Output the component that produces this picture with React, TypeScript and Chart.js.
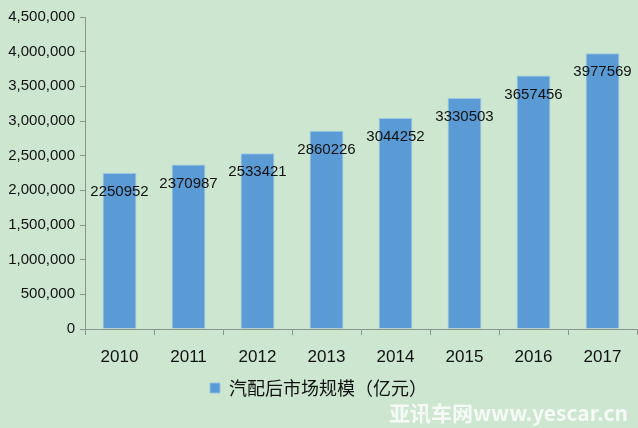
import React, { useEffect, useRef } from "react";
import { Chart, registerables } from "chart.js";

Chart.register(...registerables);

const categories = ["2010", "2011", "2012", "2013", "2014", "2015", "2016", "2017"];
const seriesName = "汽配后市场规模（亿元）";
const values = [2250952, 2370987, 2533421, 2860226, 3044252, 3330503, 3657456, 3977569];
const watermark = "亚讯车网www.yescar.cn";

const BG = "rgb(204,230,208)";
const BAR = "rgb(91,155,213)";
const TEXT = "#111";
const AXIS = "#8a968c";

const labelPlugin = {
  id: "barLabels",
  afterDatasetsDraw(chart: any) {
    const { ctx } = chart;
    const meta = chart.getDatasetMeta(0);
    ctx.save();
    ctx.font = "15px 'Liberation Sans', Arial, sans-serif";
    ctx.fillStyle = TEXT;
    ctx.textAlign = "center";
    ctx.textBaseline = "middle";
    meta.data.forEach((el: any, i: number) => {
      ctx.fillText(String(values[i]), el.x, el.y + 19);
    });
    ctx.restore();
  },
  afterDraw(chart: any) {
    const { ctx } = chart;
    ctx.save();
    ctx.font = "bold 21px 'Noto Sans CJK SC', 'Liberation Sans', sans-serif";
    ctx.fillStyle = "rgba(255,255,255,0.8)";
    ctx.textAlign = "right";
    ctx.textBaseline = "middle";
    ctx.fillText(watermark, 628, 413);
    ctx.restore();
  },
};

export default function App() {
  const ref = useRef<HTMLCanvasElement>(null);
  useEffect(() => {
    if (!ref.current) return;
    const chart = new Chart(ref.current, {
      type: "bar",
      data: {
        labels: categories,
        datasets: [
          {
            label: seriesName,
            data: values,
            backgroundColor: BAR,
            borderColor: "rgba(150,195,230,0.9)",
            borderWidth: 1,
            categoryPercentage: 1,
            barPercentage: 0.49,
          },
        ],
      },
      options: {
        responsive: false,
        animation: false,
        layout: { padding: { top: 17, right: 1, bottom: 21, left: 0 } },
        plugins: {
          tooltip: { enabled: false },
          legend: {
            position: "bottom",
            labels: {
              color: TEXT,
              font: { size: 18, family: "'Noto Sans CJK SC', sans-serif" },
              boxWidth: 10,
              boxHeight: 10,
              padding: 8,
            },
          },
        },
        scales: {
          x: {
            grid: {
              display: true,
              drawOnChartArea: false,
              offset: true,
              tickLength: 6,
              color: AXIS,
            },
            border: { color: AXIS, width: 1 },
            ticks: {
              color: TEXT,
              padding: 12,
              font: { size: 17, family: "'Liberation Sans', Arial, sans-serif" },
            },
            afterFit: (s: any) => {
              s.height = 42;
            },
          },
          y: {
            min: 0,
            max: 4500000,
            grid: {
              display: true,
              drawOnChartArea: false,
              tickLength: 5,
              color: AXIS,
            },
            border: { color: AXIS, width: 1 },
            ticks: {
              stepSize: 500000,
              color: TEXT,
              padding: 5,
              font: { size: 15, family: "'Liberation Sans', Arial, sans-serif" },
              callback: (v: any) => Number(v).toLocaleString("en-US"),
            },
            afterFit: (s: any) => {
              s.width = 85;
            },
          },
        },
      },
      plugins: [labelPlugin],
    });
    return () => chart.destroy();
  }, []);

  return (
    <div
      style={{
        position: "absolute",
        left: 0,
        top: 0,
        width: 638,
        height: 428,
        background: BG,
      }}
    >
      <canvas ref={ref} width={638} height={428} style={{ display: "block" }} />
    </div>
  );
}
